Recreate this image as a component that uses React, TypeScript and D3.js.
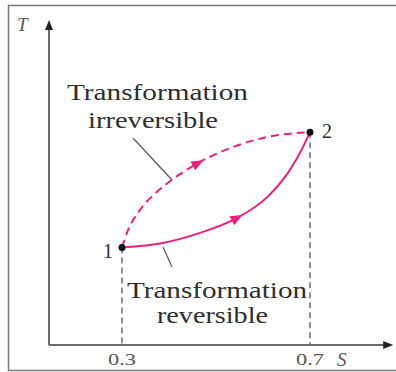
import React from "react";
import * as d3 from "d3";

// State points (entropy S, temperature T)
const stateLabels = ["1", "2"];
const stateS = [0.3, 0.7];
const stateT = [30, 65.5];

// Reversible path 1 → 2 (solid)
const reversibleS = [0.3, 0.387, 0.466, 0.545, 0.609, 0.657, 0.685, 0.7];
const reversibleT = [30, 31.4, 34.5, 39.1, 45.5, 53.8, 60.9, 65.5];

// Irreversible path 1 → 2 (dashed)
const irreversibleS = [0.3, 0.313, 0.338, 0.374, 0.406, 0.462, 0.536, 0.609, 0.7];
const irreversibleT = [30, 35.4, 41.5, 47.1, 50.8, 56.0, 60.9, 64.0, 65.5];

// Tick labels on the S axis
const sTicks = [0.3, 0.7];
const sTickLabels = ["0.3", "0.7"];

const W = 396;
const H = 372;

const x = d3.scaleLinear().domain([0.3, 0.7]).range([122, 310]);
const y = d3.scaleLinear().domain([0, 100]).range([345, 20]);

const sAxisMin = 0.1447;
const sAxisMax = 0.877;

const PINK = "#e8227c";
const AXIS = "#6a6a6a";
const TEXT = "#2e2e2e";

function pathFor(sv: number[], tv: number[]) {
  const pts = sv.map((s, i) => [x(s), y(tv[i])] as [number, number]);
  return d3.line().curve(d3.curveMonotoneX)(pts) || "";
}

function arrowAt(sv: number[], tv: number[], i: number) {
  const px = x(sv[i]);
  const py = y(tv[i]);
  const dx = x(sv[i + 1]) - x(sv[i - 1]);
  const dy = y(tv[i + 1]) - y(tv[i - 1]);
  const ang = (Math.atan2(dy, dx) * 180) / Math.PI;
  return (
    <path
      d="M6,0 L-6,-5 L-6,5 Z"
      fill={PINK}
      transform={`translate(${px},${py}) rotate(${ang})`}
    />
  );
}

export default function App() {
  const x0 = x(sAxisMin);
  const xEnd = x(sAxisMax);
  const yBase = y(0);
  const yTop = y(100);
  const serif = "'Times New Roman', 'Liberation Serif', Times, serif";

  return (
    <svg
      width={W}
      height={H}
      style={{ position: "absolute", left: 0, top: 0, background: "#fff" }}
    >
      {/* frame */}
      <rect x={8.5} y={5.5} width={392} height={365} fill="none" stroke="#7a7a7a" strokeWidth={1.5} />

      {/* projection lines to the S axis */}
      {stateS.map((s, i) => (
        <line
          key={`proj-${i}`}
          x1={x(s)}
          x2={x(s)}
          y1={y(stateT[i])}
          y2={yBase}
          stroke="#555"
          strokeWidth={1.3}
          strokeDasharray="6,4"
        />
      ))}

      {/* axes */}
      <line x1={x0} x2={x0} y1={yBase} y2={yTop + 6} stroke={AXIS} strokeWidth={2} />
      <path d={`M${x0},${yTop} L${x0 - 4},${yTop + 10} L${x0 + 4},${yTop + 10} Z`} fill="#222" />
      <line x1={x0} x2={xEnd - 6} y1={yBase} y2={yBase} stroke={AXIS} strokeWidth={2} />
      <path d={`M${xEnd},${yBase} L${xEnd - 10},${yBase - 4} L${xEnd - 10},${yBase + 4} Z`} fill="#222" />

      {/* axis titles */}
      <text x={17} y={31} fontFamily={serif} fontStyle="italic" fontSize={19} fill="#555">T</text>
      <text x={337} y={366} fontFamily={serif} fontStyle="italic" fontSize={19} fill="#555">S</text>

      {/* tick labels */}
      {sTicks.map((s, i) => (
        <text
          key={`tick-${i}`}
          x={x(s)}
          y={365}
          textAnchor="middle"
          fontFamily={serif}
          fontSize={17}
          fill="#555"
          textLength={28}
          lengthAdjust="spacingAndGlyphs"
        >
          {sTickLabels[i]}
        </text>
      ))}

      {/* leader lines */}
      <line x1={133} y1={138} x2={172} y2={180} stroke="#555" strokeWidth={1.2} />
      <line x1={163} y1={247} x2={172} y2={267} stroke="#555" strokeWidth={1.2} />

      {/* paths */}
      <path
        d={pathFor(irreversibleS, irreversibleT)}
        fill="none"
        stroke={PINK}
        strokeWidth={2}
        strokeDasharray="8,5"
      />
      {arrowAt(irreversibleS, irreversibleT, 5)}
      <path d={pathFor(reversibleS, reversibleT)} fill="none" stroke={PINK} strokeWidth={2} />
      {arrowAt(reversibleS, reversibleT, 3)}

      {/* state points */}
      {stateS.map((s, i) => (
        <circle key={`pt-${i}`} cx={x(s)} cy={y(stateT[i])} r={3.5} fill="#111" />
      ))}
      <text x={x(stateS[0]) - 14} y={258} textAnchor="middle" fontFamily={serif} fontSize={20} fill={TEXT}>
        {stateLabels[0]}
      </text>
      <text x={x(stateS[1]) + 17} y={138} textAnchor="middle" fontFamily={serif} fontSize={20} fill={TEXT}>
        {stateLabels[1]}
      </text>

      {/* annotations */}
      <g fontFamily={serif} fontSize={23} fill={TEXT}>
        <text x={67} y={100} textLength={181} lengthAdjust="spacingAndGlyphs">Transformation</text>
        <text x={88} y={128} textLength={130} lengthAdjust="spacingAndGlyphs">irreversible</text>
        <text x={127} y={298} textLength={180} lengthAdjust="spacingAndGlyphs">Transformation</text>
        <text x={157} y={323} textLength={111} lengthAdjust="spacingAndGlyphs">reversible</text>
      </g>
    </svg>
  );
}
